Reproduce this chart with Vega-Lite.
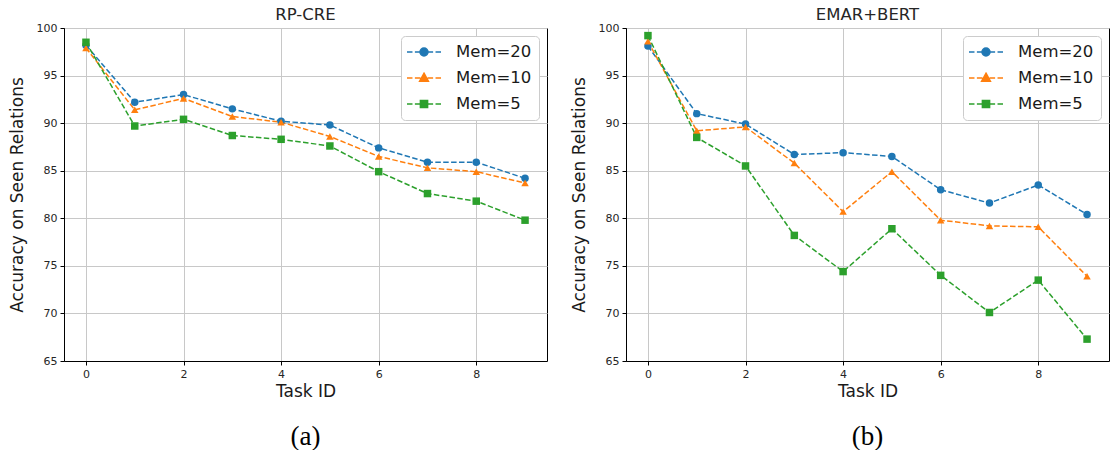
{
  "$schema": "https://vega.github.io/schema/vega-lite/v6.json",
  "padding": {"left": 7, "top": 6, "right": 0, "bottom": 0},
  "background": "white",
  "spacing": 21,
  "config": {
    "font": "DejaVu Sans",
    "view": {"stroke": "#000000", "strokeWidth": 1},
    "axis": {
      "domainColor": "#000000",
      "tickColor": "#000000",
      "tickSize": 4,
      "labelFont": "DejaVu Sans",
      "labelFontSize": 11,
      "labelColor": "#262626",
      "labelPadding": 3,
      "titleFont": "DejaVu Sans",
      "titleFontSize": 17,
      "titleFontWeight": "normal",
      "titleColor": "#1a1a1a",
      "gridColor": "#c8c8c8",
      "gridWidth": 1
    },
    "title": {"font": "DejaVu Sans", "fontSize": 16.5, "fontWeight": "normal", "color": "#262626", "offset": -1}
  },
  "datasets": {
    "rpcre": [
      {"task": 0, "acc": 98.2, "mem": "Mem=20"},
      {"task": 1, "acc": 92.2, "mem": "Mem=20"},
      {"task": 2, "acc": 93.0, "mem": "Mem=20"},
      {"task": 3, "acc": 91.5, "mem": "Mem=20"},
      {"task": 4, "acc": 90.2, "mem": "Mem=20"},
      {"task": 5, "acc": 89.8, "mem": "Mem=20"},
      {"task": 6, "acc": 87.4, "mem": "Mem=20"},
      {"task": 7, "acc": 85.9, "mem": "Mem=20"},
      {"task": 8, "acc": 85.9, "mem": "Mem=20"},
      {"task": 9, "acc": 84.2, "mem": "Mem=20"},
      {"task": 0, "acc": 97.9, "mem": "Mem=10"},
      {"task": 1, "acc": 91.4, "mem": "Mem=10"},
      {"task": 2, "acc": 92.6, "mem": "Mem=10"},
      {"task": 3, "acc": 90.7, "mem": "Mem=10"},
      {"task": 4, "acc": 90.1, "mem": "Mem=10"},
      {"task": 5, "acc": 88.6, "mem": "Mem=10"},
      {"task": 6, "acc": 86.5, "mem": "Mem=10"},
      {"task": 7, "acc": 85.3, "mem": "Mem=10"},
      {"task": 8, "acc": 84.9, "mem": "Mem=10"},
      {"task": 9, "acc": 83.7, "mem": "Mem=10"},
      {"task": 0, "acc": 98.5, "mem": "Mem=5"},
      {"task": 1, "acc": 89.7, "mem": "Mem=5"},
      {"task": 2, "acc": 90.4, "mem": "Mem=5"},
      {"task": 3, "acc": 88.7, "mem": "Mem=5"},
      {"task": 4, "acc": 88.3, "mem": "Mem=5"},
      {"task": 5, "acc": 87.6, "mem": "Mem=5"},
      {"task": 6, "acc": 84.9, "mem": "Mem=5"},
      {"task": 7, "acc": 82.6, "mem": "Mem=5"},
      {"task": 8, "acc": 81.8, "mem": "Mem=5"},
      {"task": 9, "acc": 79.8, "mem": "Mem=5"}
    ],
    "emar": [
      {"task": 0, "acc": 98.1, "mem": "Mem=20"},
      {"task": 1, "acc": 91.0, "mem": "Mem=20"},
      {"task": 2, "acc": 89.9, "mem": "Mem=20"},
      {"task": 3, "acc": 86.7, "mem": "Mem=20"},
      {"task": 4, "acc": 86.9, "mem": "Mem=20"},
      {"task": 5, "acc": 86.5, "mem": "Mem=20"},
      {"task": 6, "acc": 83.0, "mem": "Mem=20"},
      {"task": 7, "acc": 81.6, "mem": "Mem=20"},
      {"task": 8, "acc": 83.5, "mem": "Mem=20"},
      {"task": 9, "acc": 80.4, "mem": "Mem=20"},
      {"task": 0, "acc": 98.6, "mem": "Mem=10"},
      {"task": 1, "acc": 89.2, "mem": "Mem=10"},
      {"task": 2, "acc": 89.6, "mem": "Mem=10"},
      {"task": 3, "acc": 85.8, "mem": "Mem=10"},
      {"task": 4, "acc": 80.7, "mem": "Mem=10"},
      {"task": 5, "acc": 84.9, "mem": "Mem=10"},
      {"task": 6, "acc": 79.8, "mem": "Mem=10"},
      {"task": 7, "acc": 79.2, "mem": "Mem=10"},
      {"task": 8, "acc": 79.1, "mem": "Mem=10"},
      {"task": 9, "acc": 73.9, "mem": "Mem=10"},
      {"task": 0, "acc": 99.2, "mem": "Mem=5"},
      {"task": 1, "acc": 88.5, "mem": "Mem=5"},
      {"task": 2, "acc": 85.5, "mem": "Mem=5"},
      {"task": 3, "acc": 78.2, "mem": "Mem=5"},
      {"task": 4, "acc": 74.4, "mem": "Mem=5"},
      {"task": 5, "acc": 78.9, "mem": "Mem=5"},
      {"task": 6, "acc": 74.0, "mem": "Mem=5"},
      {"task": 7, "acc": 70.1, "mem": "Mem=5"},
      {"task": 8, "acc": 73.5, "mem": "Mem=5"},
      {"task": 9, "acc": 67.3, "mem": "Mem=5"}
    ]
  },
  "hconcat": [
    {
      "title": {"text": "(a)", "orient": "bottom", "anchor": "middle", "dx": 28, "font": "Liberation Serif", "fontSize": 27, "color": "#000000", "offset": 24},
      "resolve": {"scale": {"color": "independent", "shape": "independent"}, "legend": {"color": "independent", "shape": "independent"}},
      "vconcat": [
        {
          "title": "RP-CRE",
          "width": 483,
          "height": 333,
          "data": {"name": "rpcre"},
          "encoding": {
            "x": {"field": "task", "type": "quantitative", "title": "Task ID",
                  "scale": {"domain": [-0.45, 9.45], "nice": false, "zero": false},
                  "axis": {"values": [0, 2, 4, 6, 8], "titlePadding": 4}},
            "y": {"field": "acc", "type": "quantitative", "title": "Accuracy on Seen Relations",
                  "scale": {"domain": [65, 100], "nice": false, "zero": false},
                  "axis": {"values": [65, 70, 75, 80, 85, 90, 95, 100], "titlePadding": 10}},
            "color": {"field": "mem", "type": "nominal",
                      "scale": {"domain": ["Mem=20", "Mem=10", "Mem=5"], "range": ["#1f77b4", "#ff7f0e", "#2ca02c"]},
                      "legend": {
                        "title": null, "orient": "top-right", "offset": 8,
                        "labelFont": "DejaVu Sans", "labelFontSize": 16.5, "labelColor": "#1a1a1a",
                        "labelOffset": 23, "rowPadding": 8, "padding": 7,
                        "symbolSize": 256, "symbolStrokeWidth": 1.5, "symbolOffset": 7,
                        "strokeColor": "#cccccc", "fillColor": "#ffffff", "cornerRadius": 4,
                        "encode": {"symbols": {"update": {
                          "shape": {"signal": "datum.value === 'Mem=20' ? 'M-2.125,0L-1.44,0M-1.14,0L-0.45,0M0.45,0L1.14,0M1.44,0L2.125,0M-0.5,0A0.5,0.5 0 1,1 0.5,0A0.5,0.5 0 1,1 -0.5,0Z' : datum.value === 'Mem=10' ? 'M-2.125,0L-1.44,0M-1.14,0L-0.45,0M0.45,0L1.14,0M1.44,0L2.125,0M0,-0.6L0.55,0.4L-0.55,0.4Z' : 'M-2.125,0L-1.44,0M-1.14,0L-0.45,0M0.45,0L1.14,0M1.44,0L2.125,0M-0.45,-0.45L0.45,-0.45L0.45,0.45L-0.45,0.45Z'"},
                          "strokeWidth": {"value": 1.5},
                          "opacity": {"value": 1}
                        }}}
                      }}
          },
          "layer": [
            {"mark": {"type": "line", "strokeDash": [5.5, 2.4], "strokeWidth": 1.5}},
            {"mark": {"type": "point", "filled": true, "opacity": 1, "size": 56},
             "encoding": {"shape": {"field": "mem", "type": "nominal",
                                    "scale": {"domain": ["Mem=5", "Mem=10", "Mem=20"], "range": ["square", "triangle-up", "circle"]},
                                    "legend": null}}}
          ]
        }
      ]
    },
    {
      "title": {"text": "(b)", "orient": "bottom", "anchor": "middle", "dx": 28, "font": "Liberation Serif", "fontSize": 27, "color": "#000000", "offset": 24},
      "resolve": {"scale": {"color": "independent", "shape": "independent"}, "legend": {"color": "independent", "shape": "independent"}},
      "vconcat": [
        {
          "title": "EMAR+BERT",
          "width": 483,
          "height": 333,
          "data": {"name": "emar"},
          "encoding": {
            "x": {"field": "task", "type": "quantitative", "title": "Task ID",
                  "scale": {"domain": [-0.45, 9.45], "nice": false, "zero": false},
                  "axis": {"values": [0, 2, 4, 6, 8], "titlePadding": 4}},
            "y": {"field": "acc", "type": "quantitative", "title": "Accuracy on Seen Relations",
                  "scale": {"domain": [65, 100], "nice": false, "zero": false},
                  "axis": {"values": [65, 70, 75, 80, 85, 90, 95, 100], "titlePadding": 10}},
            "color": {"field": "mem", "type": "nominal",
                      "scale": {"domain": ["Mem=20", "Mem=10", "Mem=5"], "range": ["#1f77b4", "#ff7f0e", "#2ca02c"]},
                      "legend": {
                        "title": null, "orient": "top-right", "offset": 8,
                        "labelFont": "DejaVu Sans", "labelFontSize": 16.5, "labelColor": "#1a1a1a",
                        "labelOffset": 23, "rowPadding": 8, "padding": 7,
                        "symbolSize": 256, "symbolStrokeWidth": 1.5, "symbolOffset": 7,
                        "strokeColor": "#cccccc", "fillColor": "#ffffff", "cornerRadius": 4,
                        "encode": {"symbols": {"update": {
                          "shape": {"signal": "datum.value === 'Mem=20' ? 'M-2.125,0L-1.44,0M-1.14,0L-0.45,0M0.45,0L1.14,0M1.44,0L2.125,0M-0.5,0A0.5,0.5 0 1,1 0.5,0A0.5,0.5 0 1,1 -0.5,0Z' : datum.value === 'Mem=10' ? 'M-2.125,0L-1.44,0M-1.14,0L-0.45,0M0.45,0L1.14,0M1.44,0L2.125,0M0,-0.6L0.55,0.4L-0.55,0.4Z' : 'M-2.125,0L-1.44,0M-1.14,0L-0.45,0M0.45,0L1.14,0M1.44,0L2.125,0M-0.45,-0.45L0.45,-0.45L0.45,0.45L-0.45,0.45Z'"},
                          "strokeWidth": {"value": 1.5},
                          "opacity": {"value": 1}
                        }}}
                      }}
          },
          "layer": [
            {"mark": {"type": "line", "strokeDash": [5.5, 2.4], "strokeWidth": 1.5}},
            {"mark": {"type": "point", "filled": true, "opacity": 1, "size": 56},
             "encoding": {"shape": {"field": "mem", "type": "nominal",
                                    "scale": {"domain": ["Mem=5", "Mem=10", "Mem=20"], "range": ["square", "triangle-up", "circle"]},
                                    "legend": null}}}
          ]
        }
      ]
    }
  ],
  "resolve": {"scale": {"color": "independent", "shape": "independent"}, "legend": {"color": "independent", "shape": "independent"}}
}
